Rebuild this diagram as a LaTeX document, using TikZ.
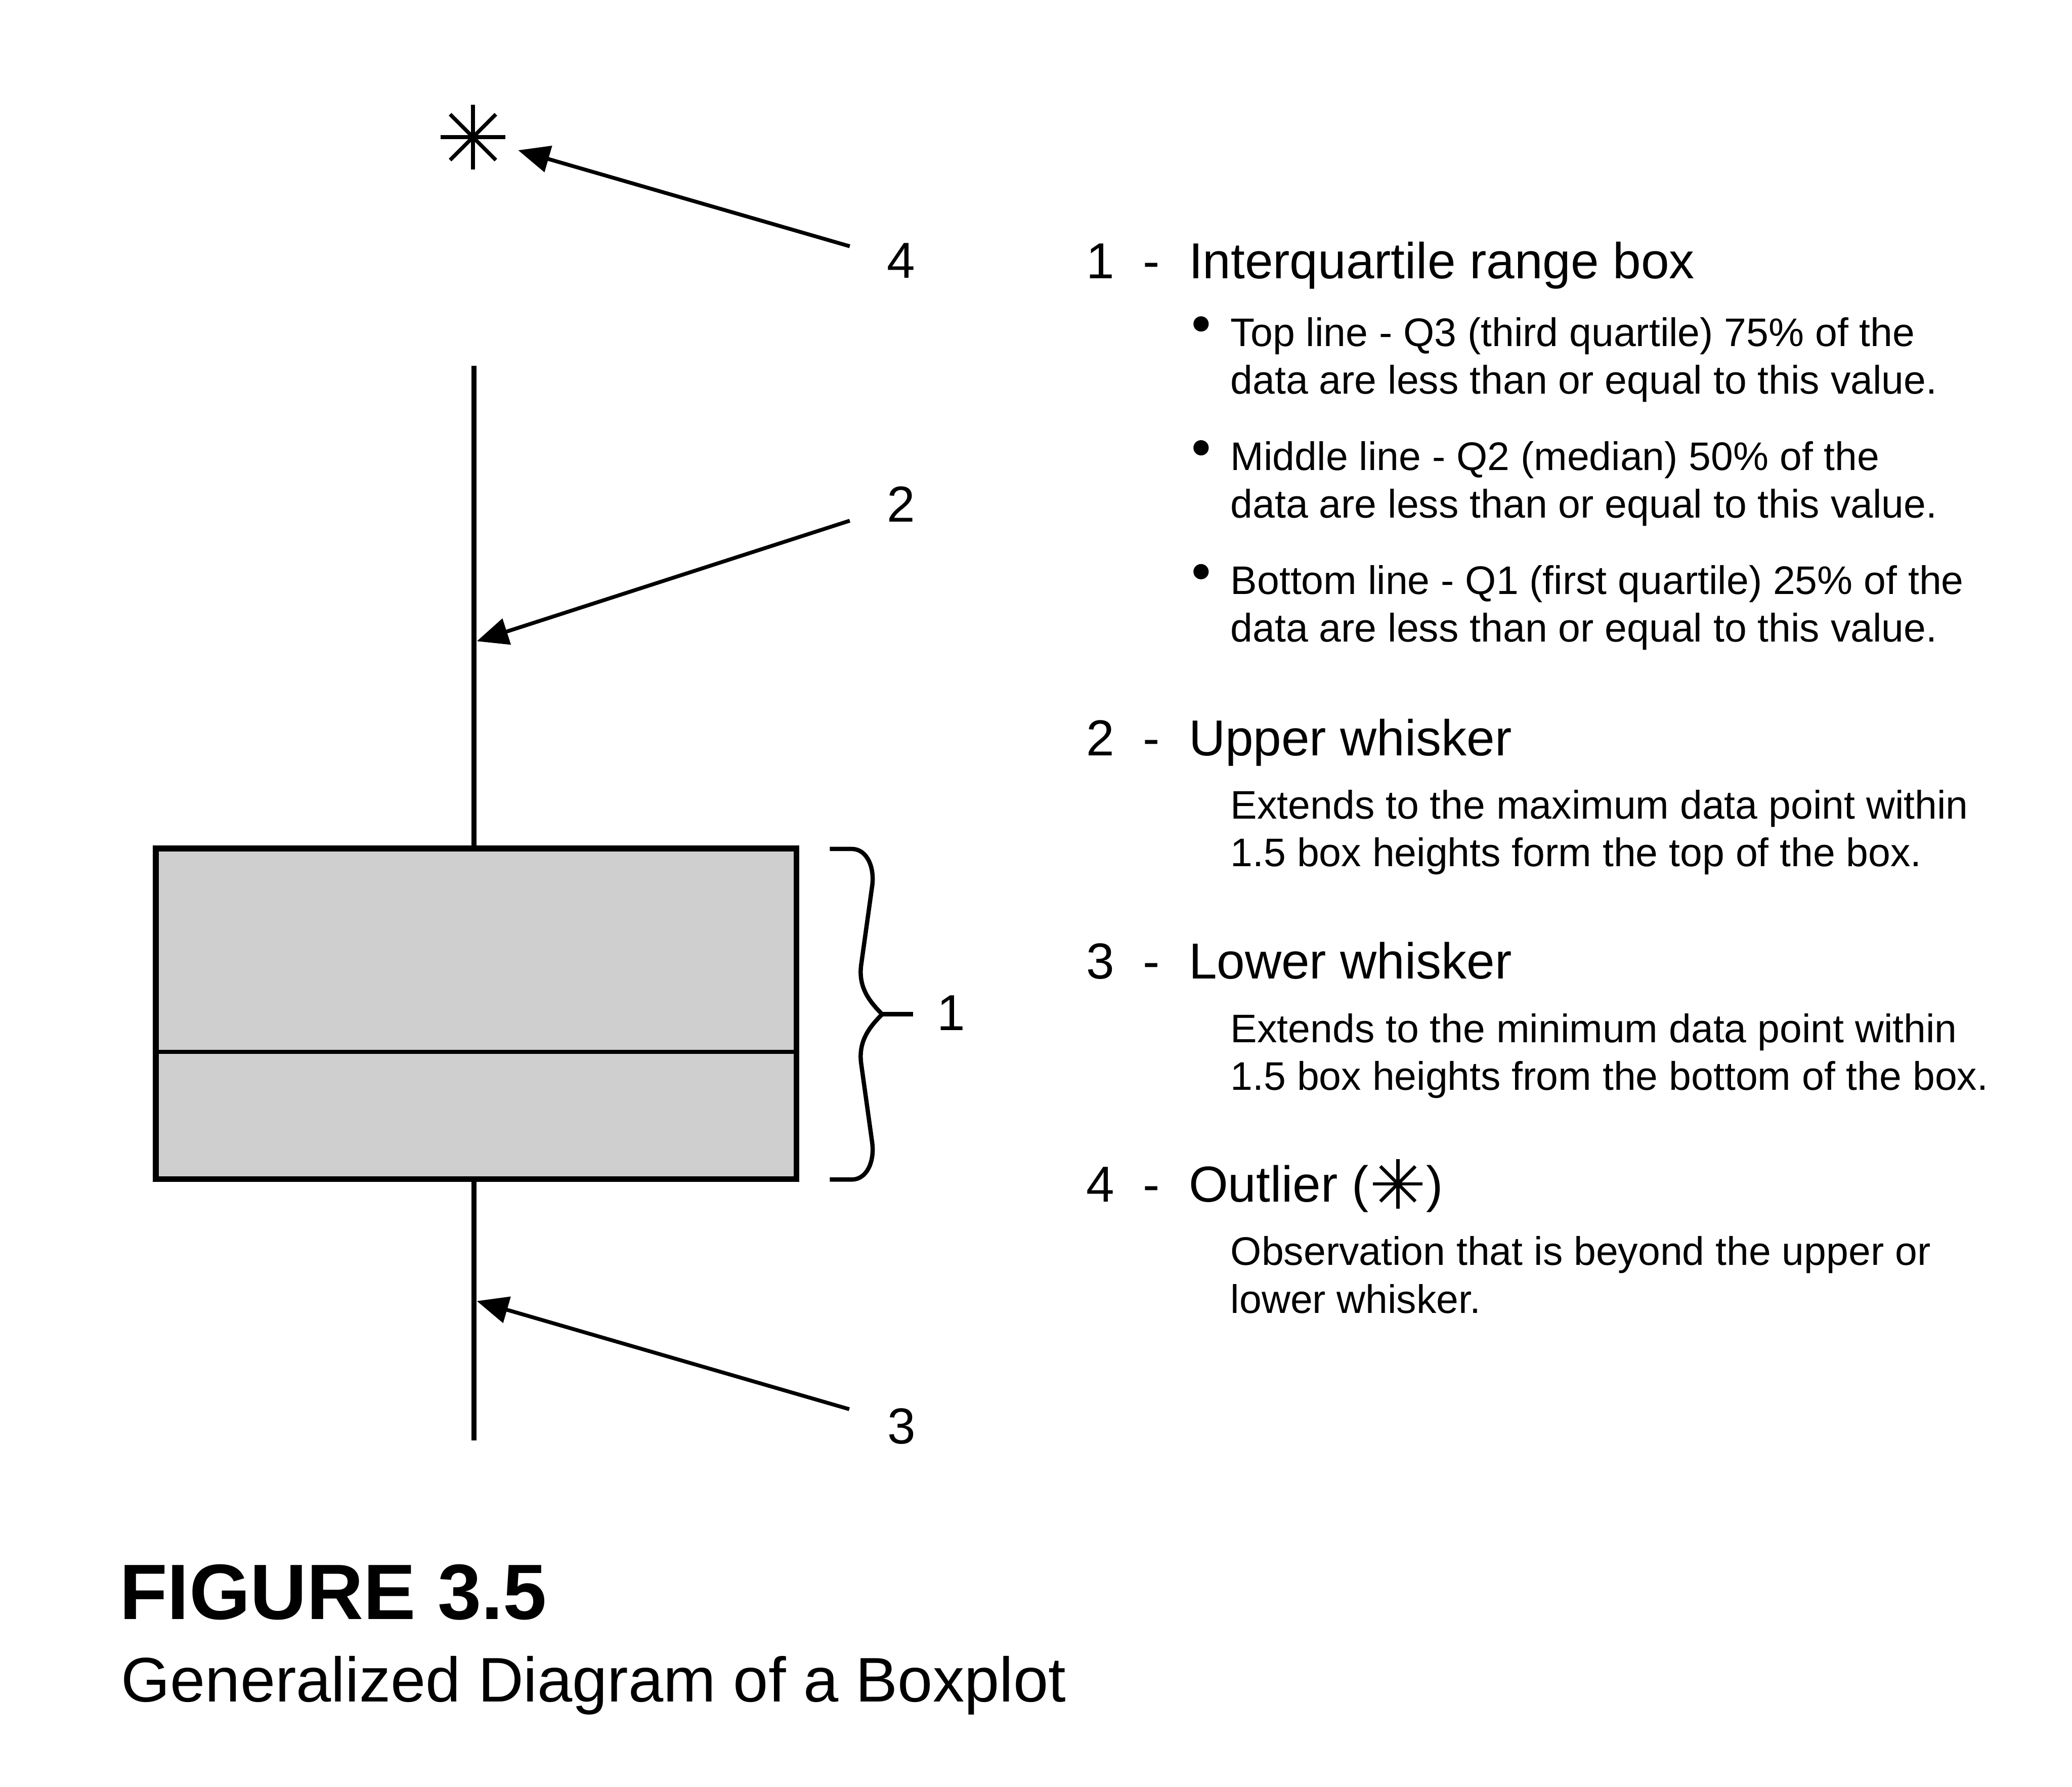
\documentclass[tikz,border=0pt]{standalone}
\usepackage{fontspec}
\setmainfont{Liberation Sans}
\usetikzlibrary{arrows.meta}
\definecolor{boxgray}{RGB}{207,207,207}
\newcommand{\starglyph}{\hspace{0.06cm}\tikz[baseline={(0,-0.38)}]{\foreach \a in {0,45,90,135} \draw[line width=0.07cm] (\a:0.52) -- (\a:-0.52);}\hspace{0.04cm}}

\begin{document}
\begin{tikzpicture}[
    heading/.style={inner sep=0pt, font=\fontsize{30.2}{36}\selectfont},
    body/.style={inner sep=0pt, anchor=base west, font=\fontsize{23.8}{28.5}\selectfont},
    pointer/.style={line width=0.08cm, -{Triangle[length=0.66cm,width=0.56cm]}},
    whisker/.style={line width=0.11cm},
    starline/.style={line width=0.08cm},
    bracket/.style={line width=0.09cm}]
    \useasboundingbox (0,0) rectangle (43.5,37.5);

    \node[draw, line width=0.12cm, fill=boxgray, outer sep=0pt,
      minimum width=13.45cm, minimum height=6.94cm] (iqr) at (9.995,16.22) {};
    \draw[line width=0.08cm] ([yshift=-0.8cm]iqr.west) -- ([yshift=-0.8cm]iqr.east);

    \coordinate (maxpt) at (9.95,29.82);
    \coordinate (minpt) at (9.95,7.26);
    \draw[whisker] (maxpt) -- (maxpt |- iqr.north);
    \draw[whisker] (minpt) -- (minpt |- iqr.south);

    \node[circle, inner sep=0pt, minimum size=1.96cm] (outlier) at (9.93,34.62) {};
    \foreach \a in {0,45,90,135}{
      \draw[starline] (outlier.center) ++(\a:0.68) -- ++(\a:-1.36);
    }

    \coordinate (tail4) at (17.84,32.33);
    \coordinate (tail2) at (17.84,26.57);
    \coordinate (tail3) at (17.83,7.92);
    \coordinate (tip2) at (10.01,24.04);
    \coordinate (tip3) at (10.01,10.19);
    \draw[pointer] (tail4) -- (outlier);
    \draw[pointer] (tail2) -- (tip2);
    \draw[pointer] (tail3) -- (tip3);

    \node[heading, anchor=base] (lab4) at (18.92,31.66) {4};
    \node[heading, anchor=base] (lab2) at (18.92,26.54) {2};
    \node[heading, anchor=base] (lab3) at (18.93,7.20) {3};
    \node[heading, anchor=base] (lab1) at (19.97,15.87) {1};

    \draw[bracket] (17.42,19.68) -- (17.88,19.68)
      .. controls (18.2,19.68) and (18.365,19.30) .. (18.31,18.90) -- (18.08,17.25)
      .. controls (18.02,16.80) and (18.22,16.51) .. (18.52,16.21)
      .. controls (18.22,15.91) and (18.02,15.62) .. (18.08,15.17) -- (18.31,13.52)
      .. controls (18.365,13.12) and (18.2,12.74) .. (17.88,12.74) -- (17.42,12.74);
    \draw[bracket] (18.52,16.21) -- (19.17,16.21);

    \foreach \y/\n/\t in {
        31.65/1/Interquartile range box,
        21.64/2/Upper whisker,
        16.95/3/Lower whisker,
        12.27/4/{Outlier (\starglyph)}}{
      \node[heading, anchor=base] (num\n) at (23.10,\y) {\n};
      \node[heading, anchor=base] (dash\n) at (24.17,\y) {-};
      \node[heading, anchor=base west] (head\n) at (24.95,\y) {\t};
    }

    \foreach \y in {30.70,28.10,25.50}{
      \fill (25.215,\y) circle (0.16);
    }

    \foreach \y/\t [count=\i] in {
        30.23/Top line - Q3 (third quartile) 75\% of the,
        29.23/data are less than or equal to this value.,
        27.63/Middle line - Q2 (median) 50\% of the,
        26.63/data are less than or equal to this value.,
        25.03/Bottom line - Q1 (first quartile) 25\% of the,
        24.03/data are less than or equal to this value.,
        20.31/Extends to the maximum data point within,
        19.31/1.5 box heights form the top of the box.,
        15.62/Extends to the minimum data point within,
        14.62/1.5 box heights from the bottom of the box.,
        10.94/Observation that is beyond the upper or,
        9.94/lower whisker.}{
      \node[body] (txt\i) at (25.83,\y) {\t};
    }

    \node[anchor=base west, inner sep=0pt, font=\bfseries\fontsize{46.9}{56}\selectfont]
      (figno) at (2.50,3.51) {FIGURE 3.5};
    \node[anchor=base west, inner sep=0pt, font=\fontsize{37.6}{45}\selectfont]
      (figtitle) at (2.54,1.78) {Generalized Diagram of a Boxplot};
\end{tikzpicture}
\end{document}
